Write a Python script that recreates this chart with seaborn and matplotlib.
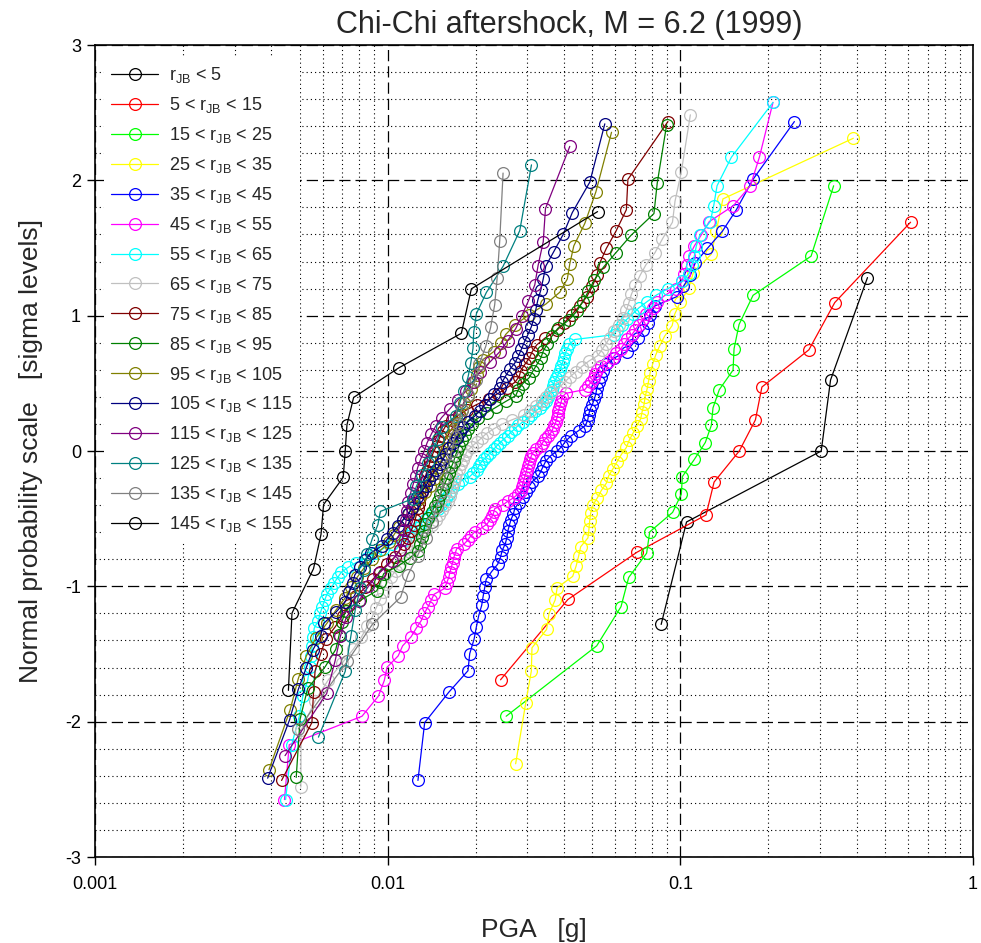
import matplotlib
matplotlib.use("Agg")
import matplotlib.pyplot as plt
import seaborn as sns
import pandas as pd
from statistics import NormalDist
from matplotlib.ticker import FixedLocator, MultipleLocator, NullFormatter, FixedFormatter

# ---------------- data: sorted PGA values [g] for each r_JB bin ----------------
labels = [
    "r$_{JB}$ < 5", "5 < r$_{JB}$ < 15", "15 < r$_{JB}$ < 25", "25 < r$_{JB}$ < 35",
    "35 < r$_{JB}$ < 45", "45 < r$_{JB}$ < 55", "55 < r$_{JB}$ < 65", "65 < r$_{JB}$ < 75",
    "75 < r$_{JB}$ < 85", "85 < r$_{JB}$ < 95", "95 < r$_{JB}$ < 105", "105 < r$_{JB}$ < 115",
    "115 < r$_{JB}$ < 125", "125 < r$_{JB}$ < 135", "135 < r$_{JB}$ < 145", "145 < r$_{JB}$ < 155",
]
colors = ["#000000", "#FF0000", "#00FF00", "#FFFF00", "#0000FF", "#FF00FF", "#00FFFF", "#C0C0C0",
          "#800000", "#008000", "#808000", "#000080", "#800080", "#008080", "#808080", "#000000"]

pga_0_5 = [0.086, 0.105, 0.303, 0.326, 0.436]
pga_5_15 = [0.0243, 0.0413, 0.0711, 0.1224, 0.1304, 0.159, 0.1805, 0.190, 0.275, 0.337, 0.612]
pga_15_25 = [0.0254, 0.0518, 0.0627, 0.0666, 0.0767, 0.0786, 0.0941, 0.1008, 0.1016, 0.1116,
             0.1217, 0.1276, 0.1293, 0.1359, 0.1514, 0.1526, 0.1587, 0.1772, 0.2797, 0.3341]
pga_25_35 = [0.02737, 0.02962, 0.03097, 0.03112, 0.03493, 0.03557, 0.03735, 0.03795, 0.04287, 0.04406,
             0.04493, 0.04564, 0.04834, 0.04872, 0.04899, 0.04938, 0.05016, 0.05205, 0.05372, 0.05588,
             0.05689, 0.05885, 0.06083, 0.06287, 0.0654, 0.06686, 0.06887, 0.07091, 0.07318, 0.07405,
             0.07522, 0.07581, 0.07702, 0.07793, 0.07886, 0.08043, 0.08234, 0.08497, 0.08838, 0.09376,
             0.09561, 0.1, 0.1068, 0.1108, 0.1276, 0.1327, 0.1398, 0.390]
pga_35_45 = [0.01269, 0.01338, 0.01617, 0.01881, 0.01907, 0.01973, 0.0201, 0.02047, 0.02095, 0.0212,
             0.02146, 0.02171, 0.02267, 0.02377, 0.0243, 0.02463, 0.02522, 0.02556, 0.02572, 0.02603,
             0.02638, 0.0269, 0.02719, 0.02805, 0.02894, 0.02964, 0.03035, 0.03119, 0.0327, 0.03336,
             0.03401, 0.03469, 0.03594, 0.03798, 0.0395, 0.04061, 0.0424, 0.04489, 0.04736, 0.04822,
             0.0486, 0.04907, 0.05004, 0.05084, 0.05145, 0.05185, 0.05268, 0.05363, 0.05457, 0.05588,
             0.05929, 0.06552, 0.06832, 0.07163, 0.0747, 0.0778, 0.07875, 0.0819, 0.0974, 0.1024,
             0.1082, 0.1125, 0.1237, 0.1392, 0.1554, 0.1771, 0.2453]
pga_45_55 = [0.00444, 0.00461, 0.00817, 0.00929, 0.00974, 0.00995, 0.01086, 0.01125, 0.01203, 0.01251,
             0.01302, 0.01333, 0.01375, 0.01408, 0.01441, 0.01566, 0.01591, 0.01617, 0.01632, 0.0165,
             0.01666, 0.01681, 0.01701, 0.01721, 0.01819, 0.01877, 0.01922, 0.01984, 0.02095, 0.02188,
             0.02231, 0.02276, 0.02303, 0.02321, 0.02473, 0.02572, 0.02697, 0.02783, 0.02861, 0.02878,
             0.02894, 0.02917, 0.02941, 0.02964, 0.02988, 0.03011, 0.03035, 0.03059, 0.03095, 0.03132,
             0.03207, 0.03336, 0.03388, 0.03455, 0.03538, 0.03623, 0.03666, 0.0371, 0.03754, 0.03783,
             0.03807, 0.03828, 0.03858, 0.03894, 0.03925, 0.0395, 0.04061, 0.04717, 0.0483, 0.0497,
             0.05064, 0.05104, 0.05205, 0.05372, 0.05654, 0.05882, 0.06047, 0.06265, 0.06414, 0.06594,
             0.06832, 0.0702, 0.0722, 0.0748, 0.0766, 0.08062, 0.0832, 0.0886, 0.0966, 0.1015,
             0.1028, 0.1052, 0.1073, 0.1116, 0.118, 0.1256, 0.1517, 0.1735, 0.1862, 0.2073]
pga_55_65 = [0.00448, 0.0047, 0.00499, 0.00513, 0.00533, 0.00542, 0.00548, 0.00552, 0.00557, 0.00561,
             0.00579, 0.00588, 0.00598, 0.00609, 0.0062, 0.00639, 0.00657, 0.00675, 0.00694, 0.00733,
             0.00781, 0.00849, 0.00907, 0.00963, 0.01032, 0.01143, 0.0118, 0.01212, 0.01256, 0.01296,
             0.01338, 0.01386, 0.01431, 0.01482, 0.01526, 0.01554, 0.01585, 0.01617, 0.01649, 0.01673,
             0.01735, 0.01798, 0.01907, 0.0196, 0.02015, 0.02047, 0.02079, 0.02129, 0.02188, 0.0224,
             0.02303, 0.02358, 0.02424, 0.02492, 0.02572, 0.02634, 0.02719, 0.02794, 0.02894, 0.03011,
             0.03095, 0.03194, 0.0331, 0.03388, 0.03482, 0.03538, 0.03594, 0.03637, 0.03681, 0.0371,
             0.03768, 0.03828, 0.03873, 0.03919, 0.03966, 0.03997, 0.04045, 0.0411, 0.04175, 0.0436,
             0.0593, 0.0607, 0.063, 0.0657, 0.06886, 0.0722, 0.0769, 0.0826, 0.0907, 0.1016,
             0.1069, 0.1095, 0.1116, 0.1134, 0.1166, 0.1266, 0.13, 0.1335, 0.1494, 0.2073]
pga_65_75 = [0.00505, 0.00506, 0.00565, 0.00627, 0.00698, 0.00763, 0.00813, 0.00852, 0.00886, 0.00914,
             0.00944, 0.00966, 0.00988, 0.01024, 0.01065, 0.01099, 0.01134, 0.01189, 0.01227, 0.01251,
             0.01286, 0.01348, 0.01414, 0.01459, 0.01494, 0.01529, 0.01566, 0.0161, 0.01636, 0.01649,
             0.01662, 0.01681, 0.01694, 0.01714, 0.01748, 0.01775, 0.0181, 0.01839, 0.01869, 0.01937,
             0.02015, 0.02095, 0.02179, 0.02303, 0.02453, 0.02654, 0.02917, 0.03059, 0.03207, 0.03362,
             0.03469, 0.03608, 0.03873, 0.04029, 0.04191, 0.04395, 0.04608, 0.04868, 0.05226, 0.05393,
             0.05566, 0.05744, 0.05929, 0.06166, 0.0639, 0.0654, 0.06673, 0.06806, 0.0702, 0.0728,
             0.0763, 0.0819, 0.0869, 0.094, 0.0959, 0.1008, 0.1082]
pga_75_85 = [0.00434, 0.00551, 0.00558, 0.00565, 0.0059, 0.00614, 0.00662, 0.00702, 0.00739, 0.00781,
             0.00839, 0.0089, 0.00944, 0.00998, 0.01057, 0.01099, 0.01134, 0.0117, 0.01198, 0.01227,
             0.01241, 0.01256, 0.01269, 0.01281, 0.01291, 0.01307, 0.0132, 0.01333, 0.01346, 0.01362,
             0.01381, 0.01397, 0.01417, 0.01439, 0.0147, 0.0149, 0.01515, 0.01545, 0.01581, 0.01662,
             0.01748, 0.01862, 0.02015, 0.02214, 0.02377, 0.02552, 0.02719, 0.02815, 0.0285, 0.02941,
             0.03047, 0.03119, 0.03232, 0.03455, 0.03783, 0.04013, 0.04257, 0.0453, 0.04793, 0.05004,
             0.05185, 0.0531, 0.05588, 0.06024, 0.0654, 0.0662, 0.0907]
pga_85_95 = [0.00487, 0.00502, 0.00533, 0.00612, 0.00665, 0.00683, 0.00697, 0.00719, 0.00806, 0.00918,
             0.00944, 0.0097, 0.0109, 0.01189, 0.01266, 0.01286, 0.01307, 0.01328, 0.01345, 0.0137,
             0.01414, 0.01447, 0.01482, 0.01512, 0.01542, 0.01566, 0.01598, 0.01623, 0.01649, 0.01679,
             0.01701, 0.01728, 0.01755, 0.01789, 0.01832, 0.01884, 0.01945, 0.02031, 0.02179, 0.02349,
             0.02532, 0.02739, 0.02794, 0.02894, 0.03047, 0.03132, 0.03232, 0.03336, 0.03401, 0.0351,
             0.03637, 0.03813, 0.04158, 0.0443, 0.04643, 0.04849, 0.05084, 0.05457, 0.06024, 0.0678,
             0.08125, 0.0834, 0.0898]
pga_95_105 = [0.00393, 0.00464, 0.00495, 0.00527, 0.00568, 0.00621, 0.00667, 0.00716, 0.00751, 0.00788,
              0.00832, 0.00886, 0.00944, 0.01012, 0.01052, 0.0109, 0.0113, 0.0118, 0.01232, 0.01276,
              0.01338, 0.01397, 0.01436, 0.0147, 0.01494, 0.01524, 0.01566, 0.01598, 0.01623, 0.01655,
              0.01688, 0.01735, 0.01762, 0.01789, 0.01819, 0.01877, 0.01929, 0.01976, 0.02015, 0.02055,
              0.02112, 0.02303, 0.02434, 0.02532, 0.02719, 0.03035, 0.03469, 0.03873, 0.0411, 0.04191,
              0.04325, 0.04717, 0.05145, 0.0582]
pga_105_115 = [0.00389, 0.00462, 0.00495, 0.00527, 0.00554, 0.0059, 0.00605, 0.00667, 0.00716, 0.00739,
               0.0076, 0.00772, 0.00806, 0.00839, 0.00879, 0.00959, 0.00998, 0.0104, 0.01082, 0.01125,
               0.01175, 0.01212, 0.01232, 0.01256, 0.01312, 0.01348, 0.01386, 0.01419, 0.01464, 0.01512,
               0.01548, 0.01585, 0.01617, 0.01668, 0.01721, 0.01768, 0.01805, 0.01884, 0.01984, 0.02063,
               0.02146, 0.02231, 0.02312, 0.02415, 0.02463, 0.02532, 0.02613, 0.02719, 0.02794, 0.02861,
               0.02929, 0.03011, 0.03095, 0.03157, 0.03207, 0.03257, 0.03336, 0.03401, 0.03469, 0.03695,
               0.0398, 0.04274, 0.04907, 0.0552]
pga_115_125 = [0.00446, 0.00619, 0.00662, 0.00689, 0.00722, 0.00797, 0.00859, 0.00933, 0.01032, 0.01099,
               0.01121, 0.01139, 0.01158, 0.01166, 0.01175, 0.01198, 0.01222, 0.01246, 0.01266, 0.01296,
               0.01333, 0.01364, 0.01408, 0.01459, 0.01529, 0.01629, 0.01735, 0.01848, 0.01952, 0.02063,
               0.02231, 0.02415, 0.02572, 0.02739, 0.02872, 0.03023, 0.03182, 0.03265, 0.03401, 0.03461,
               0.04191]
pga_125_135 = [0.0058, 0.00716, 0.00749, 0.00775, 0.00806, 0.00832, 0.00852, 0.00886, 0.00926, 0.00944,
               0.01217, 0.01253, 0.01307, 0.0137, 0.01425, 0.01482, 0.01529, 0.01717, 0.01762, 0.01823,
               0.01881, 0.01922, 0.01957, 0.01968, 0.0201, 0.02174, 0.02479, 0.02827, 0.031]
pga_135_145 = [0.00495, 0.00728, 0.00886, 0.01107, 0.01173, 0.01266, 0.01348, 0.01414, 0.0147, 0.01517,
               0.01566, 0.01617, 0.01655, 0.01694, 0.01735, 0.01789, 0.01877, 0.01999, 0.02055, 0.02163,
               0.02249, 0.02321, 0.02367, 0.02415, 0.02479]
pga_145_155 = [0.00458, 0.00471, 0.00558, 0.00592, 0.00604, 0.00705, 0.00716, 0.00726, 0.00765, 0.01093,
               0.01785, 0.01932, 0.05214]

series = [pga_0_5, pga_5_15, pga_15_25, pga_25_35, pga_35_45, pga_45_55, pga_55_65, pga_65_75,
          pga_75_85, pga_85_95, pga_95_105, pga_105_115, pga_115_125, pga_125_135, pga_135_145,
          pga_145_155]

x_ticks = [0.001, 0.01, 0.1, 1]
x_ticklabels = ["0.001", "0.01", "0.1", "1"]
y_ticks = [-3, -2, -1, 0, 1, 2, 3]

# ---------------- probability-plot positions (Hazen: (i-0.5)/n) ----------------
nd = NormalDist()
rows = []
for lab, vals in zip(labels, series):
    n = len(vals)
    for i, v in enumerate(sorted(vals), start=1):
        rows.append({"group": lab, "pga": v, "z": nd.inv_cdf((i - 0.5) / n)})
df = pd.DataFrame(rows)

# ---------------- style ----------------
sns.set_style("ticks")
plt.rcParams["font.family"] = ["Liberation Sans", "DejaVu Sans"]
plt.rcParams["mathtext.default"] = "regular"
plt.rcParams["axes.unicode_minus"] = False

fig = plt.figure(figsize=(9.81, 9.43), dpi=100)
ax = fig.add_axes([95 / 981, 86 / 943, 878 / 981, 812 / 943])
ax.set_xscale("log")

for lab, col in zip(labels, colors):
    sub = df[df["group"] == lab]
    sns.lineplot(data=sub, x="pga", y="z", ax=ax, color=col, linewidth=0.9,
                 marker="o", markersize=8.5, markerfacecolor="none",
                 markeredgecolor=col, markeredgewidth=0.9,
                 estimator=None, sort=False, label=lab)

ax.set_xlim(0.001, 1)
ax.set_ylim(-3, 3)
ax.xaxis.set_major_locator(FixedLocator(x_ticks))
ax.xaxis.set_major_formatter(FixedFormatter(x_ticklabels))
minor_x = [m * 10.0 ** e for e in (-3, -2, -1) for m in range(2, 10)]
ax.xaxis.set_minor_locator(FixedLocator(minor_x))
ax.xaxis.set_minor_formatter(NullFormatter())
ax.yaxis.set_major_locator(FixedLocator(y_ticks))
ax.yaxis.set_minor_locator(MultipleLocator(0.2))

ax.set_axisbelow(True)
ax.grid(which="major", color="black", linestyle=(0, (9, 4)), linewidth=0.9)
ax.grid(which="minor", color="black", linestyle=(0, (1, 2.8)), linewidth=0.8)

ax.tick_params(which="major", direction="out", length=6, width=1.0, labelsize=13,
               color="black", labelcolor="black")
ax.tick_params(axis="x", which="major", pad=8)
ax.tick_params(axis="y", which="major", pad=4)
ax.tick_params(which="minor", length=0)
for sp in ax.spines.values():
    sp.set_visible(True)
    sp.set_color("black")
    sp.set_linewidth(1.2)

ax.set_xlabel("PGA   [g]", fontsize=19, labelpad=18)
ax.set_ylabel("Normal probability scale   [sigma levels]", fontsize=19, labelpad=16)
ax.set_title("Chi-Chi aftershock, M = 6.2 (1999)", fontsize=22, pad=9, x=0.54)

leg = ax.legend(loc="upper left", bbox_to_anchor=(0.0, 1.0 - 4.0 / 812), fontsize=13,
                frameon=True, fancybox=False, framealpha=1.0, facecolor="white",
                edgecolor="white", handlelength=2.6, handletextpad=0.6, labelspacing=0.55,
                borderaxespad=0.5, borderpad=0.4)
leg.get_frame().set_linewidth(0)

fig.savefig("out.png", dpi=100)
